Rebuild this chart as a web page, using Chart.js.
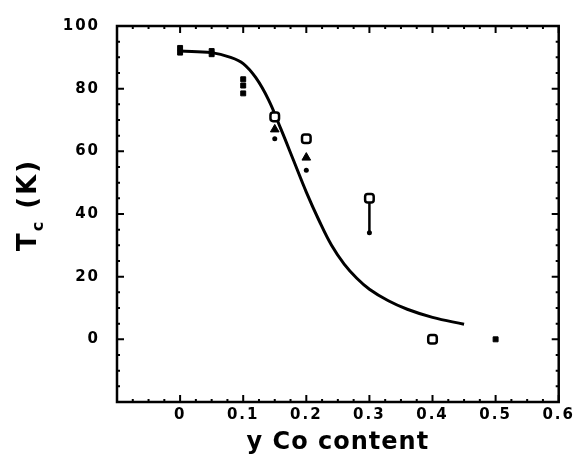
<!DOCTYPE html>
<html>
<head>
<meta charset="utf-8">
<script src="https://cdn.jsdelivr.net/npm/chart.js@4/dist/chart.umd.min.js"></script>
<style>
  html, body { margin: 0; padding: 0; background: #fff; }
</style>
</head>
<body>
<canvas id="chart-tc" width="576" height="469"></canvas>
<script>
// ── data ──
const curveX = [0, 0.05, 0.08, 0.1, 0.12, 0.14, 0.16, 0.18, 0.2, 0.22, 0.24, 0.26, 0.28, 0.3, 0.33, 0.36, 0.4, 0.45];
const curveY = [92, 91.5, 90, 88, 83.5, 76.5, 67, 57, 47, 38, 30, 24, 19.5, 16, 12.3, 9.6, 7, 4.8];

const filledX = [0, 0, 0.05, 0.05, 0.1, 0.1, 0.1, 0.5];
const filledY = [93, 91.5, 92, 91, 83, 81, 78.5, 0];

const openX = [0.15, 0.2, 0.3, 0.4];
const openY = [71, 64, 45, 0];

const triX = [0.15, 0.2];
const triY = [67, 58];

const dotX = [0.15, 0.2, 0.3];
const dotY = [64, 54, 34];

const errX = [0.3, 0.3];
const errY = [45, 34];

const xMajor = [0, 0.1, 0.2, 0.3, 0.4, 0.5, 0.6];
const yMajor = [0, 20, 40, 60, 80, 100];

const pts = (xs, ys) => xs.map((x, i) => ({ x, y: ys[i] }));
const FONT = "'DejaVu Sans', sans-serif";

// ── frame, inward ticks and axis titles ──
const framePlugin = {
    id: 'frame',
    beforeDraw(chart) {
        chart.ctx.letterSpacing = '2px';
    },
    afterDraw(chart) {
        const { ctx, chartArea: a, scales: { x, y } } = chart;
        ctx.save();
        ctx.letterSpacing = '0px';
        ctx.strokeStyle = '#000';
        ctx.lineWidth = 2.5;
        ctx.strokeRect(a.left, a.top, a.right - a.left, a.bottom - a.top);

        ctx.lineWidth = 2;
        ctx.beginPath();
        // x ticks (top and bottom)
        for (let v = -0.1; v <= 0.6001; v += 0.025) {
            const px = x.getPixelForValue(v);
            const major = xMajor.some(m => Math.abs(m - v) < 1e-6);
            const len = major ? 7 : 3;
            ctx.moveTo(px, a.bottom); ctx.lineTo(px, a.bottom - len);
            ctx.moveTo(px, a.top); ctx.lineTo(px, a.top + len);
        }
        // y ticks (left and right)
        for (let v = -20; v <= 100; v += 5) {
            const py = y.getPixelForValue(v);
            const major = yMajor.includes(v);
            const len = major ? 7 : 3;
            ctx.moveTo(a.left, py); ctx.lineTo(a.left + len, py);
            ctx.moveTo(a.right, py); ctx.lineTo(a.right - len, py);
        }
        ctx.stroke();

        // x title
        ctx.fillStyle = '#000';
        ctx.font = `bold 24px ${FONT}`;
        ctx.letterSpacing = '1px';
        ctx.textAlign = 'center';
        ctx.textBaseline = 'alphabetic';
        ctx.fillText('y Co content', (a.left + a.right) / 2, 449);

        // y title: T_c (K)
        ctx.translate(36, 205);
        ctx.rotate(-Math.PI / 2);
        ctx.textAlign = 'left';
        ctx.letterSpacing = '2px';
        ctx.font = `bold 26px ${FONT}`;
        const wT = ctx.measureText('T').width;
        const wK = ctx.measureText(' (K)').width;
        ctx.font = `bold 16px ${FONT}`;
        const wc = ctx.measureText('c').width;
        let sx = -(wT + wc + wK) / 2;
        ctx.font = `bold 26px ${FONT}`;
        ctx.fillText('T', sx, 0);
        ctx.font = `bold 16px ${FONT}`;
        ctx.fillText('c', sx + wT, 7);
        ctx.font = `bold 26px ${FONT}`;
        ctx.fillText(' (K)', sx + wT + wc, 0);
        ctx.restore();
    }
};

new Chart(document.getElementById('chart-tc'), {
    type: 'scatter',
    data: {
        datasets: [
            {
                label: 'filled',
                data: pts(filledX, filledY),
                pointStyle: 'rect',
                pointRadius: 3.5,
                backgroundColor: '#000',
                borderColor: '#000',
                borderWidth: 1,
            },
            {
                label: 'open',
                data: pts(openX, openY),
                pointStyle: 'rectRounded',
                pointRadius: 5,
                backgroundColor: '#fff',
                borderColor: '#000',
                borderWidth: 2.5,
            },
            {
                label: 'triangle',
                data: pts(triX, triY),
                pointStyle: 'triangle',
                pointRadius: 5,
                backgroundColor: '#000',
                borderColor: '#000',
                borderWidth: 1,
            },
            {
                label: 'dot',
                data: pts(dotX, dotY),
                pointStyle: 'circle',
                pointRadius: 2.5,
                backgroundColor: '#000',
                borderColor: '#000',
                borderWidth: 0,
            },
            {
                label: 'error',
                data: pts(errX, errY),
                showLine: true,
                pointRadius: 0,
                borderColor: '#000',
                borderWidth: 2.5,
            },
            {
                label: 'fit',
                data: pts(curveX, curveY),
                showLine: true,
                pointRadius: 0,
                borderColor: '#000',
                borderWidth: 3,
                tension: 0.4,
            },
        ]
    },
    options: {
        responsive: false,
        animation: false,
        layout: { padding: { top: 24, right: 17, left: 0, bottom: 0 } },
        plugins: {
            legend: { display: false },
            tooltip: { enabled: false },
        },
        scales: {
            x: {
                type: 'linear',
                min: -0.1,
                max: 0.6,
                afterFit: s => { s.height = 67; },
                grid: { display: false, drawTicks: false },
                border: { display: false },
                ticks: {
                    stepSize: 0.1,
                    padding: 4,
                    color: '#000',
                    font: { family: FONT, size: 15, weight: 'bold' },
                    callback: v => (v < -0.05 ? '' : (Math.abs(v) < 1e-9 ? '0' : v.toFixed(1))),
                },
            },
            y: {
                type: 'linear',
                min: -20,
                max: 100,
                afterFit: s => { s.width = 117; },
                grid: { display: false, drawTicks: false },
                border: { display: false },
                ticks: {
                    stepSize: 20,
                    padding: 17,
                    color: '#000',
                    font: { family: FONT, size: 15, weight: 'bold' },
                    callback: v => (v < 0 ? '' : v),
                },
            },
        }
    },
    plugins: [framePlugin]
});
</script>
</body>
</html>
